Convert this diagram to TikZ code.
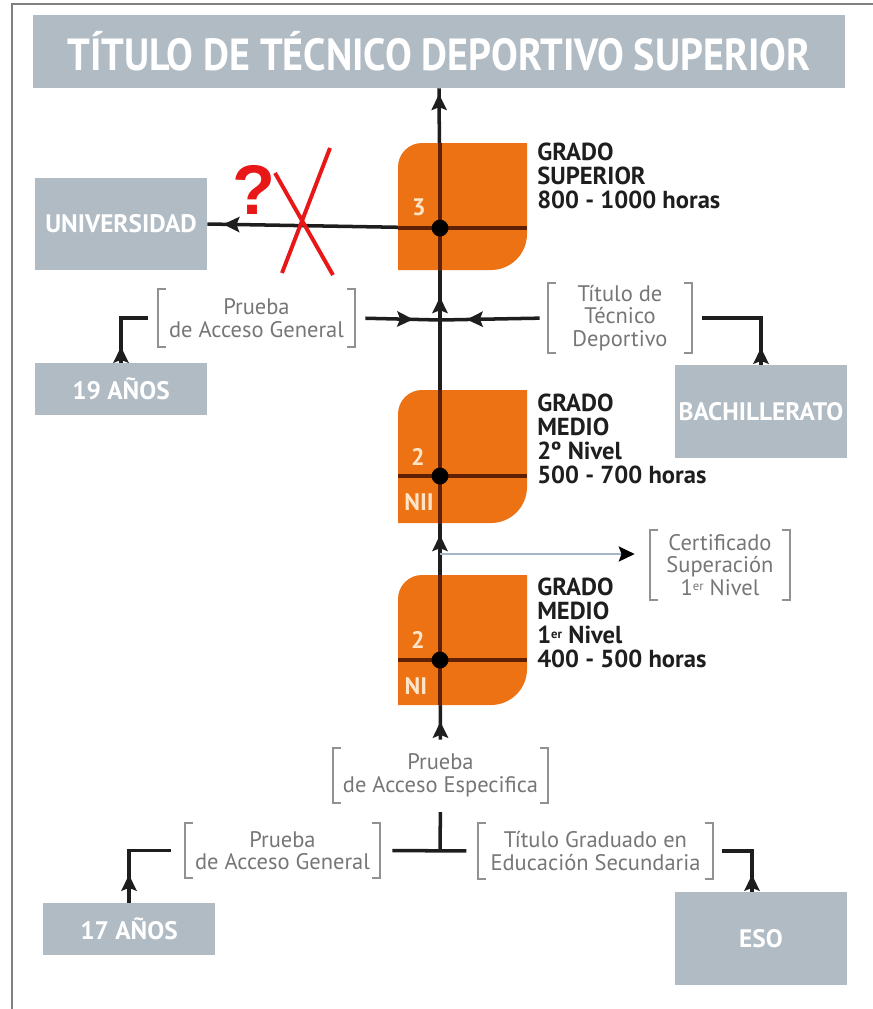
\documentclass[tikz,border=0pt]{standalone}
\usepackage{fontspec}
\setmainfont{PT Sans}
\newfontfamily\qfont{Liberation Sans}
\usepackage{graphicx}
\usetikzlibrary{arrows.meta,decorations.markings}

\definecolor{boxgray}{RGB}{176,187,196}
\definecolor{orng}{RGB}{236,114,20}
\definecolor{lineo}{RGB}{95,32,8}
\definecolor{txtgray}{RGB}{118,118,118}
\definecolor{txtdark}{RGB}{30,30,30}
\definecolor{numc}{RGB}{255,228,200}
\definecolor{certln}{RGB}{165,182,200}
\definecolor{crossred}{RGB}{232,24,24}

% small raised ordinal
\newcommand\supr[1]{\raisebox{0.4ex}{\fontsize{9}{9}\selectfont #1}}

% orange level box: top, bottom, y of the cross line
\newcommand\lvlbox[3]{
  \fill[orng] (398,-#2) -- (398,-#1-24) arc (180:90:24) -- (527,-#1) -- (527,-#2+36) arc (0:-90:36) -- cycle;
  \begin{scope}
    \clip (398,-#2) -- (398,-#1-24) arc (180:90:24) -- (527,-#1) -- (527,-#2+36) arc (0:-90:36) -- cycle;
    \draw[conn, draw=lineo] (440,-#1) -- (440,-#2) (398,-#3) -- (527,-#3);
  \end{scope}}

% square brackets round a label node
\newcommand\brackets[1]{
  \draw[brk] (#1.north west) ++(8,0) -- (#1.north west) -- (#1.south west) -- ++(8,0);
  \draw[brk] (#1.north east) ++(-8,0) -- (#1.north east) -- (#1.south east) -- ++(-8,0);}

\begin{document}
\begin{tikzpicture}[x=0.025cm, y=0.025cm,
    gbox/.style={fill=boxgray, text=white, font=\fontsize{18}{18}\selectfont\bfseries, inner sep=0, minimum width=4.3cm},
    brkt/.style={align=center, text=txtgray, font=\fontsize{16}{16}\selectfont, inner sep=0},
    lvltxt/.style={anchor=north west, align=left, text=txtdark, font=\fontsize{17.5}{17}\selectfont\bfseries, inner sep=0},
    num/.style={text=numc, font=\fontsize{17}{17}\selectfont\bfseries, inner sep=0},
    conn/.style={line width=2.5pt, draw=txtdark},
    brk/.style={line width=1.4pt, draw=txtgray!80},
    midarrow/.style={postaction={decorate}, decoration={markings,
      mark=at position #1 with {\arrow{Stealth[length=0.4cm,width=0.38cm,inset=0.07cm]}}}}]

    % style of the crossing points
    \tikzstyle{dot}=[circle, fill=black, inner sep=0, minimum size=0.42cm]

    \useasboundingbox (0,0) rectangle (873,-1009);
    \draw[gray, line width=1.4pt] (873,-4) -- (12,-4) -- (12,-1009);

    % boxes
    \node[gbox, minimum width=20.3cm, minimum height=1.825cm, font=\fontsize{32}{32}\selectfont\bfseries]
      (title) at (439,-51.5) {\scalebox{0.89}[1]{TÍTULO DE TÉCNICO DEPORTIVO SUPERIOR}};
    \node[gbox, minimum height=2.3cm] (univ) at (121,-224) {UNIVERSIDAD};
    \node[gbox, minimum height=1.3cm] (anos19) at (121,-389) {19 AÑOS};
    \node[gbox, minimum height=2.325cm] (bach) at (761,-411.5) {BACHILLERATO};
    \node[gbox, minimum height=1.3cm] (anos17) at (129,-929) {17 AÑOS};
    \node[gbox, minimum height=2.325cm] (eso) at (761,-938.5) {ESO};

    % labels in brackets
    \node[brkt, minimum width=4.925cm, minimum height=1.425cm] (pag1) at (256.5,-318) {Prueba\\de Acceso General};
    \node[brkt, minimum width=3.6cm, minimum height=1.725cm] (ttd) at (620,-318) {Título de\\Técnico\\Deportivo};
    \node[brkt, minimum width=3.5cm, minimum height=1.75cm] (cert) at (720,-565) {Certificado\\Superación\\1\supr{er} Nivel};
    \node[brkt, minimum width=5.375cm, minimum height=1.375cm] (espec) at (440.5,-775.5) {Prueba\\de Acceso Especifica};
    \node[brkt, minimum width=4.875cm, minimum height=1.375cm] (pag2) at (282.5,-850.5) {Prueba\\de Acceso General};
    \node[brkt, minimum width=5.875cm, minimum height=1.4cm] (tgrad) at (595.5,-851) {Título Graduado en\\Educación Secundaria};
    \foreach \b in {pag1,ttd,cert,espec,pag2,tgrad} {\brackets{\b}}

    % points on the main line
    \coordinate (c3) at (440,-228);
    \coordinate (c2) at (440,-476);
    \coordinate (c1) at (440,-660);
    \coordinate (e3) at (527,-228);
    \coordinate (j1) at (440,-320);
    \coordinate (cb) at (440,-554);
    \coordinate (tj) at (440,-850);

    % main line
    \draw[conn, shorten <=0.2cm, midarrow=0.65cm] (espec.north) -- (c1);
    \draw[conn, midarrow=3.125cm] (c1) -- (c2);
    \draw[conn] (c2) -- (j1);
    \draw[conn, midarrow=0.575cm] (j1) -- (c3);
    \draw[conn, midarrow=3.35cm] (c3) -- (title.south);
    \draw[conn] (e3) -- (c3);
    \draw[conn, midarrow=-0.4cm] (c3) -- (univ.east);

    % entries at the upper junction
    \draw[conn, shorten <=0.25cm, midarrow=1.45cm] (pag1.east) -- (j1);
    \draw[conn, shorten <=0.2cm, midarrow=2.025cm] (ttd.west) -- (j1);
    \draw[conn, shorten >=0.25cm, midarrow=0.4cm] (anos19.north) |- (pag1.west);
    \draw[conn, shorten >=0.25cm, midarrow=0.425cm] (bach.north) |- (ttd.east);

    % certificate
    \draw[certln, line width=1.3pt, shorten >=0.375cm,
      -{Stealth[length=0.4cm,width=0.38cm,inset=0.07cm,color=black]}] (cb) -- (cb -| cert.west);

    % entries at the bottom
    \draw[conn, shorten <=0.22cm] (espec.south) -- (tj);
    \draw[conn, shorten <=0.3cm, shorten >=0.28cm] (pag2.east) -- (tgrad.west);
    \draw[conn, shorten >=0.33cm, midarrow=0.7cm] (anos17.north) |- (pag2.west);
    \draw[conn, shorten >=0.22cm, midarrow=0.425cm] ([xshift=-0.225cm]eso.north) |- (tgrad.east);

    % level boxes
    \lvlbox{143}{270}{228}
    \lvlbox{390}{523}{476}
    \lvlbox{575}{705}{660}
    \node[dot] (d3) at (c3) {};
    \node[dot] (d2) at (c2) {};
    \node[dot] (d1) at (c1) {};
    \node[num] (n3) at (419,-207) {3};
    \node[num] (n2b) at (418,-457) {2};
    \node[num] (nii) at (419,-502) {NII};
    \node[num] (n2a) at (418,-640) {2};
    \node[num] (ni) at (416,-686) {NI};

    \node[lvltxt] (sup) at (537,-143) {GRADO\\SUPERIOR\\800 - 1000 horas};
    \node[lvltxt] (med2) at (537,-394) {GRADO\\MEDIO\\2º Nivel\\500 - 700 horas};
    \node[lvltxt] (med1) at (537,-578) {GRADO\\MEDIO\\1\supr{\bfseries er} Nivel\\400 - 500 horas};

    % crossed out way to the university
    \draw[crossred, line width=2.8pt] (330,-148) -- (282,-273) (275,-173) -- (333,-275);
    \node[text=crossred, font=\qfont\fontsize{50}{50}\selectfont\bfseries, inner sep=0] (q) at (254,-190) {?};
\end{tikzpicture}
\end{document}
